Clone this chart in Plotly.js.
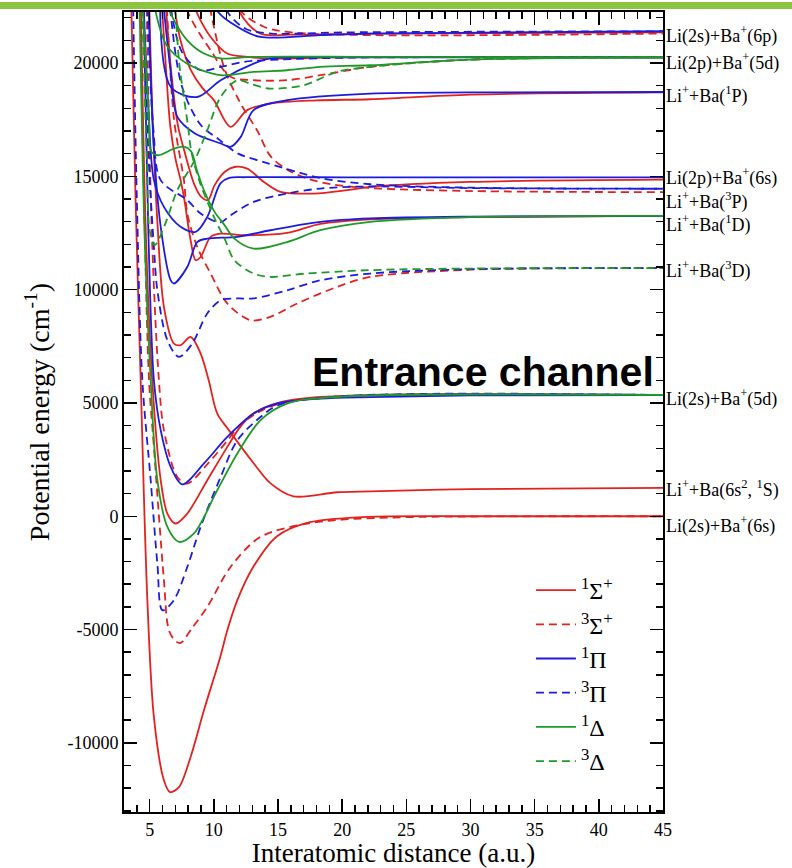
<!DOCTYPE html>
<html><head><meta charset="utf-8">
<script src="https://cdn.plot.ly/plotly-3.0.1.min.js"></script>
<style>html,body{margin:0;padding:0;background:#fff;}#plot{width:792px;height:868px;}</style>
</head><body><div id="plot"></div>
<script>
// ---- 1Σ+ (solid red) ----
const rS1=[3.55,3.9,4.3,4.82,5.33,6.11,6.58,7.28,8.19,9.23,10.5,11.05,11.83,13.1,14.9,17.2,22,30,45];
const eS1=[23000,14000,6000,-3700,-8860,-11650,-12170,-11950,-10620,-8560,-6210,-5030,-3700,-2210,-890,-300,-30,0,0];
const rS2=[4.3,4.7,5.2,5.86,6.38,7.02,7.93,9.49,11.05,12,13,15,18,25,45];
const eS2=[23000,12500,6000,1590,120,-320,120,1590,3060,3900,4500,5000,5250,5340,5350];
const rS3=[4.95,5.2,5.6,6.11,6.89,7.41,8.19,8.97,9.6,10.27,11.17,13.1,14.4,16.2,19.6,22.2,30,45];
const eS3=[23000,18000,13000,9240,7620,7550,7910,7180,6000,4530,3800,2340,1460,880,1060,1100,1200,1250];
const rS4=[5.9,6.3,6.6,7.0,7.41,7.67,8.19,8.58,8.97,9.75,10.53,12.5,15.7,18.3,22.2,30,45];
const eS4=[23000,19500,17250,15800,14830,14090,12180,11300,11440,12330,12470,12400,12500,12900,13100,13200,13250];
const rS5=[6.2,6.7,7.2,7.72,8.5,9.02,9.54,10.06,10.84,11.6,12.6,13.9,15.2,17.8,20.4,22.2,30,45];
const eS5=[23000,19500,17250,16080,14610,14090,13950,14610,15190,15410,15340,14750,14310,14240,14390,14530,14750,14850];
const rS6=[6.8,7.4,8.2,9.1,10.0,11.3,12.6,14.4,18,22.2,30,45];
const eS6=[23000,21000,19700,18900,18360,17180,17920,18210,18350,18400,18600,18700];
const rS7=[8.2,8.71,9.75,11.05,12.6,14.4,22.2,45];
const eS7=[23000,22180,21150,20420,20270,20200,20270,20250];
const rS8=[11.3,11.95,13.6,16,22.2,45];
const eS8=[24000,22300,21300,21250,21300,21350];
// ---- 3Σ+ (dashed red) ----
const rD1=[4.25,4.6,4.95,5.33,6.11,6.5,7.0,7.41,8.27,9.49,11.3,13.64,17.3,20,25,45];
const eD1=[23000,13000,6000,3060,-2820,-5030,-5500,-5590,-4960,-4000,-2240,-910,-320,-150,-40,0];
const rD2=[4.75,5.2,5.72,6.11,7.16,7.93,9.5,11,12,13.5,15,20,45];
const eD2=[23000,12000,6000,3800,1730,1440,2300,3300,4000,4600,4950,5300,5350];
const rD3=[6.3,6.9,7.67,7.93,8.71,9.75,11.05,12.86,14.4,16.5,19.6,22.2,30,45];
const eD3=[23000,17500,14830,13360,11880,10710,9390,8650,8800,9390,10120,10560,10880,10950];
const rD4=[9.5,10.8,12.0,13.4,14.4,15.7,17.3,19.1,22.2,30,45];
const eD4=[23000,19800,18300,17000,15900,15300,14900,14650,14480,14350,14300];
const rD5=[7.5,7.93,9.75,11.3,13.1,15.7,18.3,22.2,30,45];
const eD5=[23500,22300,20560,19390,19240,19240,19460,19830,20150,20250];
const rD6=[11,12.1,13.9,15.7,22.2,45];
const eD6=[24000,22300,21600,21370,21230,21300];
// ---- 1Π (solid blue) ----
const rB1=[4.5,4.9,5.33,5.86,6.64,7.55,9.23,11.05,13.1,14.9,18.3,22.2,30,45];
const eB1=[23000,12500,6000,3800,2180,1410,2330,3500,4530,4970,5190,5260,5330,5350];
const rB2=[4.9,5.3,5.86,6.64,6.89,7.93,8.71,9.49,11.83,14.4,18.3,22.2,30,45];
const eB2=[23000,16500,12770,10410,10270,11000,12100,12250,12330,12620,12990,13140,13220,13250];
const rB3=[4.5,4.9,5.33,6.11,7.41,8.58,9.49,10.53,11.2,12.5,22,45];
const eB3=[23000,18000,14830,13650,12770,12550,13210,14700,14930,14960,14950,14950];
const rB4=[6.0,6.6,7.16,8.5,10.53,11.3,12.1,13.1,15.7,22.2,30,45];
const eB4=[23000,19800,17620,16900,16450,16300,16740,17920,18360,18650,18700,18720];
const rB5=[5.8,6.64,8.71,10.53,13.1,14.4,22,45];
const eB5=[23000,18950,18500,19240,19970,20200,20250,20250];
const rB6=[9.5,10.27,11.83,13.6,18.3,22.2,45];
const eB6=[24000,22300,21600,21150,21230,21300,21400];
// ---- 3Π (dashed blue) ----
const rP1=[3.7,4.0,4.43,5.08,5.6,6.0,6.89,7.93,8.97,10.53,11.83,13.64,15,20,45];
const eP1=[23000,14000,6000,1590,-2090,-4150,-3700,-2240,-470,1730,3350,4380,4900,5300,5350];
const rP2=[4.5,4.9,5.33,5.6,6.38,7.28,8.32,9.49,10.53,11.83,13.1,15.7,18.3,22.2,30,45];
const eP2=[23000,16000,11880,9970,7770,7030,7620,8950,9530,9610,9610,9970,10410,10710,10900,10950];
const rP3=[4.8,5.3,5.86,7.93,8.97,10.5,11.3,13.1,15.7,18.3,22.2,30,45];
const eP3=[23000,17000,14830,13950,13360,12970,13280,13870,14240,14460,14550,14480,14450];
const rP4=[6.5,7.5,9.0,10.3,11.9,13.9,16.5,18.5,22.2,30,45];
const eP4=[23000,19000,17250,16670,16000,15630,15190,14900,14650,14500,14450];
const rP5=[6.5,7.5,8.97,10.53,12.34,13.9,20,45];
const eP5=[23000,20500,19680,19830,20050,20120,20230,20250];
const rP6=[10,11,12.5,14.5,20,45];
const eP6=[24000,22300,21500,21300,21350,21400];
// ---- 1Δ (solid green) ----
const rG1=[4.2,4.6,5.08,5.6,6.38,7.28,8.45,10.27,11.83,13.64,15.7,20,45];
const eG1=[23000,12500,6000,1590,-470,-1130,-760,1150,2770,4240,4970,5280,5350];
const rG2=[4.4,4.7,4.95,5.13,5.65,6.95,7.72,8.25,8.64,9.28,10.06,10.84,11.6,13.1,15.7,18.3,22.2,30,45];
const eG2=[23000,20000,17500,16080,15930,16230,16300,16080,15340,14310,13430,12840,12250,11810,12100,12620,12990,13200,13250];
const rG3=[5.5,6.64,7.93,9.23,10.53,13.1,22.2,45];
const eG3=[24000,22180,21000,20420,20200,20270,20270,20250];
const rG4=[5.2,6.3,7.93,10.53,13.1,15.7,18.3,22.2,30,45];
const eG4=[23000,20800,19970,19460,19610,19680,19830,19900,20150,20250];
// ---- 3Δ (dashed green) ----
const rH1=[6.6,7.0,7.3,7.98,8.25,8.9,10.06,10.84,11.6,13.1,14.4,17,22.2,30,45];
const eH1=[24000,22300,20000,17250,16080,14750,13140,12250,11300,10710,10560,10700,10860,10930,10950];
const rH2=[4.4,4.6,4.8,5.0,5.39,6.17,7.16,8.5,9.49,10.53,11.83,13,14.4,17,19.6,22.2,30,45];
const eH2=[23000,19000,15500,12600,11960,12840,14390,15700,17030,18500,19240,19050,18870,19020,19610,19830,20150,20250];

// ---- legend / labels / ticks ----
const symNames=['<sup>1</sup>Σ<sup>+</sup>','<sup>3</sup>Σ<sup>+</sup>','<sup>1</sup>Π','<sup>3</sup>Π','<sup>1</sup>Δ','<sup>3</sup>Δ'];
const asymLabels=['Li(2s)+Ba<sup>+</sup>(6p)','Li(2p)+Ba<sup>+</sup>(5d)','Li<sup>+</sup>+Ba(<sup>1</sup>P)','Li(2p)+Ba<sup>+</sup>(6s)','Li<sup>+</sup>+Ba(<sup>3</sup>P)','Li<sup>+</sup>+Ba(<sup>1</sup>D)','Li<sup>+</sup>+Ba(<sup>3</sup>D)','Li(2s)+Ba<sup>+</sup>(5d)','Li<sup>+</sup>+Ba(6s<sup>2</sup>, <sup>1</sup>S)','Li(2s)+Ba<sup>+</sup>(6s)'];
const asymLabelE=[21230,20060,18580,14970,13920,12890,10860,5210,1190,-400];
const xTickVals=[5,10,15,20,25,30,35,40,45];
const yTickVals=[-10000,-5000,0,5000,10000,15000,20000];
const yTickText=['-10000','-5000','0','5000','10000','15000','20000'];

const RED='#e3221f', BLUE='#1c1ce0', GREEN='#1f9a28';
const groups=[
  {name:symNames[0],color:RED,dash:'solid',curves:[[rS1,eS1],[rS2,eS2],[rS3,eS3],[rS4,eS4],[rS5,eS5],[rS6,eS6],[rS7,eS7],[rS8,eS8]]},
  {name:symNames[1],color:RED,dash:'8px,5px',curves:[[rD1,eD1],[rD2,eD2],[rD3,eD3],[rD4,eD4],[rD5,eD5],[rD6,eD6]]},
  {name:symNames[2],color:BLUE,dash:'solid',curves:[[rB1,eB1],[rB2,eB2],[rB3,eB3],[rB4,eB4],[rB5,eB5],[rB6,eB6]]},
  {name:symNames[3],color:BLUE,dash:'8px,5px',curves:[[rP1,eP1],[rP2,eP2],[rP3,eP3],[rP4,eP4],[rP5,eP5],[rP6,eP6]]},
  {name:symNames[4],color:GREEN,dash:'solid',curves:[[rG1,eG1],[rG2,eG2],[rG3,eG3],[rG4,eG4]]},
  {name:symNames[5],color:GREEN,dash:'8px,5px',curves:[[rH1,eH1],[rH2,eH2]]}
];
const traces=[];
groups.forEach((g,gi)=>{
  g.curves.forEach((c,ci)=>{
    traces.push({x:c[0],y:c[1],type:'scatter',mode:'lines',name:g.name,legendgroup:'g'+gi,
      showlegend:ci===0,legendrank:gi+1,
      line:{color:g.color,width:1.8,dash:g.dash,shape:'spline',smoothing:0.9},hoverinfo:'skip'});
  });
});

const serif='Liberation Serif';
const annotations=asymLabels.map((t,i)=>({text:t,xref:'paper',x:1,xshift:1,xanchor:'left',yref:'y',y:asymLabelE[i],yanchor:'middle',showarrow:false,font:{family:serif,size:18,color:'#000'}}));
annotations.push({text:'<b>Entrance channel</b>',xref:'x',x:31.0,yref:'y',y:6350,xanchor:'center',yanchor:'middle',showarrow:false,font:{family:'Liberation Sans',size:41,color:'#000'}});

function axisBase(){return {showline:true,linecolor:'#000',linewidth:2,mirror:'allticks',ticks:'inside',ticklen:13,tickwidth:1.5,tickcolor:'#000',showgrid:false,zeroline:false,automargin:false,tickfont:{family:serif,size:18,color:'#000'}};}
const layout={
  width:792,height:868,margin:{l:124,r:129,t:12,b:56},paper_bgcolor:'#fff',plot_bgcolor:'#fff',
  font:{family:serif,color:'#000'},
  showlegend:true,
  legend:{x:0.755,y:0.305,xanchor:'left',yanchor:'top',bgcolor:'rgba(0,0,0,0)',font:{family:serif,size:24,color:'#000'},tracegroupgap:0,itemwidth:40},
  xaxis:Object.assign(axisBase(),{range:[3,45],tickmode:'array',tickvals:xTickVals,ticktext:xTickVals.map(String),ticklabelstandoff:0,
    minor:{ticks:'inside',ticklen:7,dtick:1,tick0:0,tickwidth:1.5,tickcolor:'#000'},
    title:{text:'Interatomic distance (a.u.)',font:{family:serif,size:27,color:'#000'},standoff:5}}),
  yaxis:Object.assign(axisBase(),{range:[-13050,22250],tickmode:'array',tickvals:yTickVals,ticktext:yTickText,
    minor:{ticks:'inside',ticklen:7,dtick:1000,tick0:0,tickwidth:1.5,tickcolor:'#000'},
    title:{text:'Potential energy (cm<sup>-1</sup>)',font:{family:serif,size:28,color:'#000'},standoff:10}}),
  annotations:annotations,
  shapes:[{type:'rect',xref:'paper',yref:'paper',x0:-0.3,x1:1.3,y0:1.0038,y1:1.0125,fillcolor:'#8cc63f',line:{width:0},layer:'above'}]
};
Plotly.newPlot('plot',traces,layout,{displayModeBar:false,staticPlot:true});
</script></body></html>
